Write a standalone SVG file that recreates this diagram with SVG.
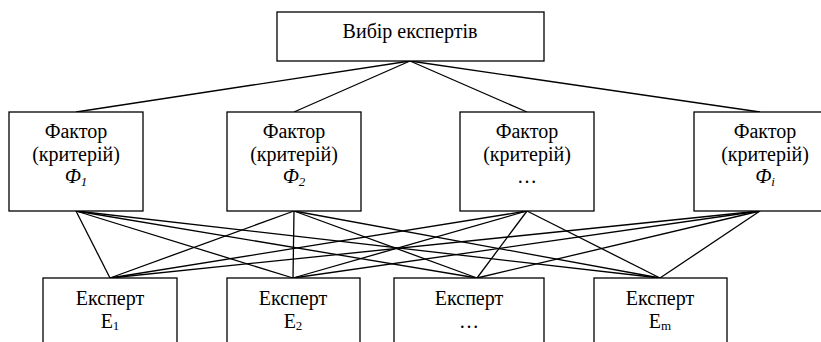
<svg xmlns="http://www.w3.org/2000/svg" width="821" height="342" viewBox="0 0 821 342">
<style>
rect{fill:#fff;stroke:#000;stroke-width:1.3}
line{stroke:#000;stroke-width:1.3}
text{font-size:20px;fill:#000;text-anchor:middle}
.i{font-style:italic}
.s{font-size:13px}
</style>
<rect x="0" y="0" width="821" height="342" style="stroke:none"/>
<g id="connectors">
<line x1="410" y1="61" x2="76" y2="112"/>
<line x1="410" y1="61" x2="294" y2="112"/>
<line x1="410" y1="61" x2="527" y2="112"/>
<line x1="410" y1="61" x2="760" y2="112"/>
<line x1="76" y1="211" x2="110" y2="278"/>
<line x1="76" y1="211" x2="293" y2="278"/>
<line x1="76" y1="211" x2="477" y2="278"/>
<line x1="76" y1="211" x2="660" y2="278"/>
<line x1="294" y1="211" x2="110" y2="278"/>
<line x1="294" y1="211" x2="293" y2="278"/>
<line x1="294" y1="211" x2="477" y2="278"/>
<line x1="294" y1="211" x2="660" y2="278"/>
<line x1="527" y1="211" x2="110" y2="278"/>
<line x1="527" y1="211" x2="293" y2="278"/>
<line x1="527" y1="211" x2="477" y2="278"/>
<line x1="527" y1="211" x2="660" y2="278"/>
<line x1="760" y1="211" x2="110" y2="278"/>
<line x1="760" y1="211" x2="293" y2="278"/>
<line x1="760" y1="211" x2="477" y2="278"/>
<line x1="760" y1="211" x2="660" y2="278"/>
</g>
<g id="top">
<rect x="277" y="12" width="267" height="49"/>
<text x="410" y="38" font-family="Times New Roman">Вибір експертів</text>
</g>
<g id="f1">
<rect x="9" y="112" width="134" height="99"/>
<text x="76" y="138" font-family="Times New Roman">Фактор</text>
<text x="76" y="160.5" font-family="Times New Roman">(критерій)</text>
<text x="76" y="183" font-family="Times New Roman" class="i">Ф<tspan class="s" dy="3">1</tspan></text>
</g>
<g id="f2">
<rect x="227" y="112" width="134" height="99"/>
<text x="294" y="138" font-family="Times New Roman">Фактор</text>
<text x="294" y="160.5" font-family="Times New Roman">(критерій)</text>
<text x="294" y="183" font-family="Times New Roman" class="i">Ф<tspan class="s" dy="3">2</tspan></text>
</g>
<g id="f3">
<rect x="460" y="112" width="134" height="99"/>
<text x="527" y="138" font-family="Times New Roman">Фактор</text>
<text x="527" y="160.5" font-family="Times New Roman">(критерій)</text>
<text x="527" y="183" font-family="Times New Roman">…</text>
</g>
<g id="f4">
<rect x="694" y="112" width="134" height="99"/>
<text x="765" y="138" font-family="Times New Roman">Фактор</text>
<text x="765" y="160.5" font-family="Times New Roman">(критерій)</text>
<text x="765" y="183" font-family="Times New Roman" class="i">Ф<tspan class="s" dy="3">i</tspan></text>
</g>
<g id="e1">
<rect x="43" y="278" width="134" height="80"/>
<text x="110" y="305" font-family="Times New Roman">Експерт</text>
<text x="110" y="328" font-family="Times New Roman">Е<tspan class="s" dy="2">1</tspan></text>
</g>
<g id="e2">
<rect x="227" y="278" width="133" height="80"/>
<text x="293" y="305" font-family="Times New Roman">Експерт</text>
<text x="293" y="328" font-family="Times New Roman">Е<tspan class="s" dy="2">2</tspan></text>
</g>
<g id="e3">
<rect x="394" y="278" width="150" height="80"/>
<text x="469" y="305" font-family="Times New Roman">Експерт</text>
<text x="469" y="328" font-family="Times New Roman">…</text>
</g>
<g id="em">
<rect x="594" y="278" width="133" height="80"/>
<text x="660" y="305" font-family="Times New Roman">Експерт</text>
<text x="660" y="328" font-family="Times New Roman">Е<tspan class="s" dy="2">m</tspan></text>
</g>
</svg>
